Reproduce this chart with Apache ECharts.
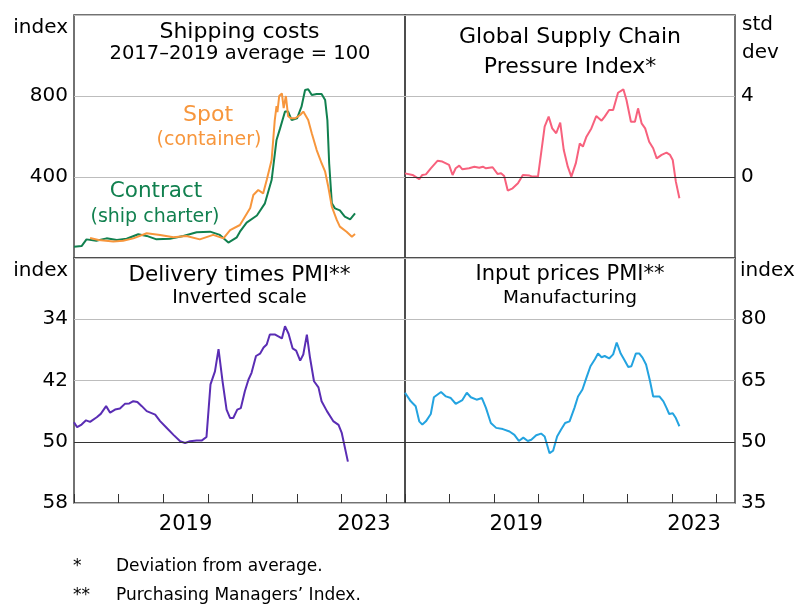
<!DOCTYPE html>
<html lang="en">
<head>
    <meta charset="UTF-8">
    <title>Supply chain indicators</title>
    <script src="https://cdn.jsdelivr.net/npm/echarts@6.0.0/dist/echarts.min.js"></script>
    <style>
        body { margin: 0; padding: 0; background: #fff; }
        #chart { width: 800px; height: 608px; }
    </style>
</head>
<body>
    <div id="chart"></div>

    <script>
        // data, x = decimal year
        const spot = [
            [2017.36, 99], [2017.55, 89], [2017.88, 81], [2018.10, 85], [2018.33, 97], [2018.63, 122],
            [2018.93, 114], [2019.23, 102], [2019.52, 109], [2019.82, 92], [2020.12, 114], [2020.35, 97],
            [2020.50, 138], [2020.72, 163], [2020.95, 247], [2021.02, 311], [2021.13, 336], [2021.24, 319],
            [2021.32, 385], [2021.43, 484], [2021.50, 680], [2021.54, 750], [2021.56, 720], [2021.60, 800],
            [2021.66, 813], [2021.70, 740], [2021.75, 800], [2021.80, 700], [2021.86, 690], [2021.96, 690],
            [2022.07, 706], [2022.14, 723], [2022.25, 681], [2022.33, 616], [2022.44, 533], [2022.55, 468],
            [2022.63, 426], [2022.70, 352], [2022.78, 253], [2022.89, 188], [2022.96, 155], [2023.11, 130],
            [2023.23, 105], [2023.30, 118]
        ];
        const contract = [
            [2017.00, 56], [2017.17, 59], [2017.28, 92], [2017.50, 85], [2017.73, 97], [2017.96, 89],
            [2018.18, 95], [2018.44, 117], [2018.63, 109], [2018.85, 92], [2019.15, 95], [2019.45, 109],
            [2019.75, 127], [2020.05, 130], [2020.27, 114], [2020.46, 76], [2020.65, 102], [2020.72, 130],
            [2020.87, 175], [2021.10, 210], [2021.28, 270], [2021.43, 385], [2021.54, 583], [2021.62, 640],
            [2021.73, 723], [2021.80, 723], [2021.88, 681], [2022.00, 690], [2022.10, 747], [2022.18, 830],
            [2022.25, 833], [2022.33, 805], [2022.44, 810], [2022.55, 810], [2022.63, 780], [2022.68, 681],
            [2022.72, 468], [2022.78, 270], [2022.85, 245], [2022.96, 235], [2023.07, 204], [2023.19, 191],
            [2023.30, 220]
        ];
        const gscpi = [
            [2017.00, 0.18], [2017.17, 0.10], [2017.32, -0.10], [2017.39, 0.10], [2017.47, 0.13], [2017.58, 0.43],
            [2017.73, 0.80], [2017.84, 0.76], [2017.99, 0.60], [2018.07, 0.10], [2018.14, 0.43], [2018.22, 0.56],
            [2018.29, 0.38], [2018.44, 0.43], [2018.56, 0.51], [2018.67, 0.46], [2018.75, 0.51], [2018.82, 0.43],
            [2018.97, 0.48], [2019.08, 0.15], [2019.16, 0.18], [2019.23, 0.05], [2019.31, -0.67], [2019.42, -0.56],
            [2019.54, -0.31], [2019.65, 0.10], [2019.80, 0.07], [2019.87, 0.02], [2019.99, 0.02], [2020.06, 1.17],
            [2020.14, 2.49], [2020.23, 2.98], [2020.31, 2.40], [2020.40, 2.16], [2020.49, 2.68], [2020.57, 1.33],
            [2020.66, 0.51], [2020.74, 0.02], [2020.84, 0.67], [2020.93, 1.66], [2021.00, 1.50], [2021.08, 1.99],
            [2021.19, 2.40], [2021.30, 3.01], [2021.42, 2.78], [2021.49, 2.98], [2021.59, 3.31], [2021.68, 3.31],
            [2021.79, 4.16], [2021.91, 4.33], [2021.98, 3.80], [2022.08, 2.73], [2022.17, 2.73], [2022.24, 3.39],
            [2022.32, 2.65], [2022.40, 2.40], [2022.49, 1.74], [2022.58, 1.42], [2022.66, 0.92], [2022.77, 1.09],
            [2022.88, 1.20], [2022.96, 1.09], [2023.02, 0.84], [2023.09, -0.23], [2023.17, -1.05]
        ];
        const delivery = [
            [2017.00, 47.45], [2017.07, 48.1], [2017.17, 47.75], [2017.27, 47.2], [2017.36, 47.4], [2017.51, 46.8],
            [2017.60, 46.36], [2017.72, 45.35], [2017.81, 46.2], [2017.92, 45.8], [2018.03, 45.66], [2018.14, 45.05],
            [2018.24, 45.0], [2018.33, 44.7], [2018.42, 44.8], [2018.52, 45.35], [2018.63, 46.0], [2018.82, 46.45],
            [2018.93, 47.3], [2019.08, 48.2], [2019.23, 49.1], [2019.38, 49.94], [2019.49, 50.16], [2019.60, 49.94],
            [2019.75, 49.85], [2019.86, 49.85], [2019.97, 49.37], [2020.06, 42.5], [2020.16, 40.8], [2020.24, 37.9],
            [2020.33, 42.1], [2020.42, 45.8], [2020.50, 46.9], [2020.57, 46.9], [2020.66, 45.8], [2020.74, 45.6],
            [2020.83, 43.4], [2020.91, 41.9], [2020.98, 41.0], [2021.08, 38.8], [2021.17, 38.5], [2021.25, 37.7],
            [2021.32, 37.3], [2021.39, 36.0], [2021.51, 36.0], [2021.66, 36.5], [2021.73, 34.9], [2021.81, 35.9],
            [2021.90, 37.8], [2021.98, 38.1], [2022.07, 39.4], [2022.14, 38.6], [2022.22, 36.0], [2022.29, 39.0],
            [2022.38, 42.1], [2022.48, 42.9], [2022.55, 44.7], [2022.67, 46.0], [2022.81, 47.3], [2022.93, 47.8],
            [2023.00, 48.8], [2023.14, 52.6]
        ];
        const inputPrices = [
            [2017.00, 62.0], [2017.13, 59.9], [2017.24, 58.7], [2017.32, 55.0], [2017.39, 54.2], [2017.47, 55.0],
            [2017.58, 56.8], [2017.65, 60.9], [2017.81, 62.2], [2017.92, 61.1], [2018.03, 60.7], [2018.14, 59.3],
            [2018.29, 60.2], [2018.39, 62.0], [2018.48, 60.9], [2018.61, 60.3], [2018.73, 60.7], [2018.82, 58.3],
            [2018.93, 54.6], [2019.05, 53.4], [2019.20, 53.1], [2019.35, 52.5], [2019.46, 51.7], [2019.56, 50.2],
            [2019.66, 51.0], [2019.76, 50.2], [2019.84, 50.5], [2019.95, 51.6], [2020.06, 52.0], [2020.14, 51.3],
            [2020.25, 47.2], [2020.33, 47.8], [2020.42, 51.3], [2020.51, 53.0], [2020.60, 54.6], [2020.70, 55.0],
            [2020.81, 58.3], [2020.89, 61.1], [2020.99, 62.8], [2021.08, 65.7], [2021.17, 68.5], [2021.27, 70.2],
            [2021.34, 71.6], [2021.42, 70.7], [2021.49, 71.0], [2021.59, 70.4], [2021.68, 71.4], [2021.76, 74.3],
            [2021.85, 71.6], [2021.94, 69.9], [2022.02, 68.3], [2022.09, 68.5], [2022.19, 71.6], [2022.27, 71.6],
            [2022.34, 70.6], [2022.42, 68.9], [2022.51, 64.8], [2022.58, 61.1], [2022.72, 61.1], [2022.81, 59.9],
            [2022.88, 58.3], [2022.94, 56.8], [2023.02, 57.0], [2023.09, 55.8], [2023.17, 53.8]
        ];

        const yearTicks = [2017, 2018, 2019, 2020, 2021, 2022, 2023, 2024];
        const yearLabels = [2019, 2023];

        const FONT = 'DejaVu Sans';
        const X_MIN = 2017, X_MAX = 2024.42;

        const chart = echarts.init(document.getElementById('chart'));

        // one x axis per panel; only the bottom row shows ticks and labels
        function xAxis(gridIndex, bottom) {
            return {
                type: 'value', gridIndex: gridIndex, min: X_MIN, max: X_MAX,
                axisLine: { show: false },
                splitLine: { show: false },
                axisTick: {
                    show: bottom, inside: true, length: 9,
                    customValues: yearTicks,
                    lineStyle: { color: '#333' }
                },
                axisLabel: {
                    show: bottom, margin: 11, fontSize: 21, fontFamily: FONT, color: '#000',
                    customValues: yearLabels.map(y => y + 0.5),
                    formatter: v => String(Math.floor(v))
                }
            };
        }

        function yAxis(gridIndex, pos, min, max, interval, extra) {
            return Object.assign({
                type: 'value', gridIndex: gridIndex, position: pos,
                min: min, max: max, interval: interval,
                axisLine: { show: false },
                axisTick: { show: false },
                splitLine: { lineStyle: { color: '#bdbdbd', width: 1 } },
                axisLabel: {
                    margin: 6, fontSize: 20, fontFamily: FONT, color: '#000',
                    showMinLabel: false, showMaxLabel: false
                }
            }, extra || {});
        }

        function zeroLine(value) {
            return {
                silent: true, symbol: 'none', label: { show: false },
                lineStyle: { color: '#333', width: 1, type: 'solid' },
                data: [{ yAxis: value }]
            };
        }

        function line(name, data, color, xi, extra) {
            return Object.assign({
                name: name, type: 'line', data: data,
                xAxisIndex: xi, yAxisIndex: xi,
                showSymbol: false, animation: false,
                lineStyle: { color: color, width: 2 },
                z: 3
            }, extra || {});
        }

        function text(str, x, y, size, align, color) {
            return {
                type: 'text', x: x, y: y, silent: true,
                style: {
                    text: str, fontSize: size, fontFamily: FONT,
                    fill: color || '#000', align: align || 'center', verticalAlign: 'middle'
                }
            };
        }

        const frame = { show: true, borderColor: '#444', borderWidth: 1.5, backgroundColor: 'transparent' };

        const option = {
            animation: false,
            grid: [
                Object.assign({ left: 74, top: 15, width: 331, height: 243 }, frame),
                Object.assign({ left: 405, top: 15, width: 330, height: 243 }, frame),
                Object.assign({ left: 74, top: 258, width: 331, height: 245 }, frame),
                Object.assign({ left: 405, top: 258, width: 330, height: 245 }, frame)
            ],
            xAxis: [xAxis(0, false), xAxis(1, false), xAxis(2, true), xAxis(3, true)],
            yAxis: [
                yAxis(0, 'left', 0, 1200, 400),
                yAxis(1, 'right', -4, 8, 4),
                yAxis(2, 'left', 26, 58, 8, { inverse: true, axisLabel: {
                    margin: 6, fontSize: 20, fontFamily: FONT, color: '#000',
                    showMinLabel: false, showMaxLabel: true } }),
                yAxis(3, 'right', 35, 95, 15, { axisLabel: {
                    margin: 6, fontSize: 20, fontFamily: FONT, color: '#000',
                    showMinLabel: true, showMaxLabel: false } })
            ],
            series: [
                line('Contract', contract, '#11804f', 0),
                line('Spot', spot, '#f7963c', 0),
                line('GSCPI', gscpi, '#f7617d', 1, { markLine: zeroLine(0) }),
                line('Delivery times', delivery, '#5a2db4', 2, { markLine: zeroLine(50) }),
                line('Input prices', inputPrices, '#23a3e0', 3, { markLine: zeroLine(50) })
            ],
            graphic: [
                text('index', 68, 28, 20, 'right'),
                text('std', 742, 25, 20, 'left'),
                text('dev', 742, 53, 20, 'left'),
                text('index', 68, 271, 20, 'right'),
                text('index', 740, 271, 20, 'left'),

                text('Shipping costs', 239.5, 32, 22),
                text('2017–2019 average = 100', 240, 54, 19.5),
                text('Global Supply Chain', 570, 37, 22),
                text('Pressure Index*', 570, 67, 22),
                text('Delivery times PMI**', 239.5, 275, 21.5),
                text('Inverted scale', 239.5, 298, 19),
                text('Input prices PMI**', 570, 275, 21),
                text('Manufacturing', 570, 298, 18.5),

                text('Spot', 208, 115, 22, 'center', '#f7963c'),
                text('(container)', 209, 140, 19, 'center', '#f7963c'),
                text('Contract', 156, 191, 21.5, 'center', '#11804f'),
                text('(ship charter)', 155, 217, 19, 'center', '#11804f'),

                text('*', 73, 567, 17, 'left'),
                text('Deviation from average.', 116, 567, 17, 'left'),
                text('**', 73, 596, 17, 'left'),
                text('Purchasing Managers’ Index.', 116, 596, 17, 'left')
            ]
        };

        chart.setOption(option);
    </script>
</body>
</html>
